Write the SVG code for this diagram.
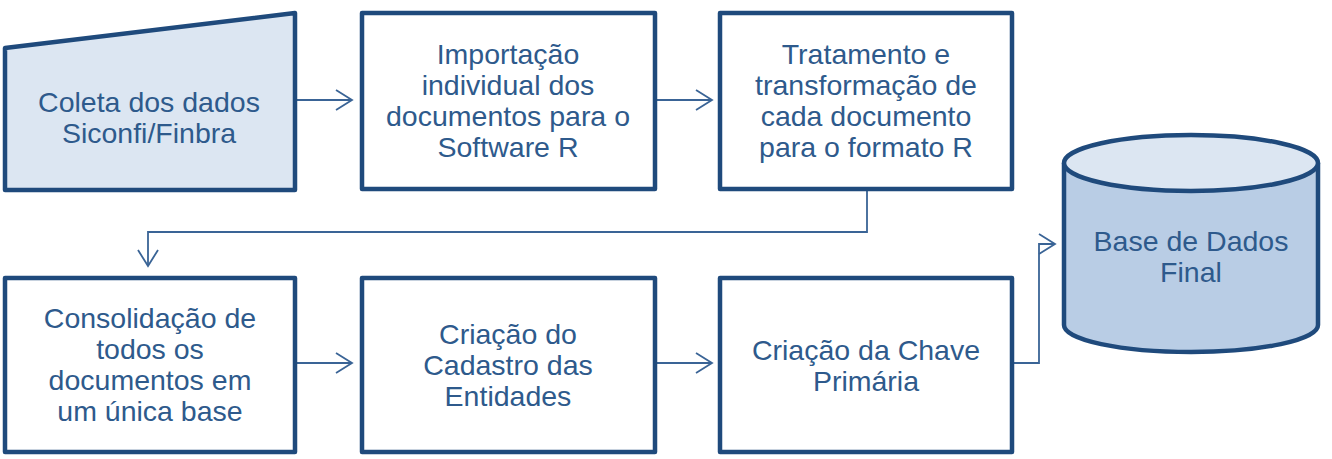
<svg xmlns="http://www.w3.org/2000/svg" width="1332" height="459" viewBox="0 0 1332 459">
<defs>
<style>
.box{fill:#ffffff;stroke:#1f4a7c;stroke-width:4.5;stroke-linejoin:round}
.light{fill:#dce6f2}
.dark{fill:#b9cde5}
.t{font-family:"Liberation Sans",Arial,sans-serif;font-size:28.5px;fill:#2e5a8c;text-anchor:middle}
.c{fill:none;stroke:#3a6496;stroke-width:1.8}
</style>
<marker id="arr" viewBox="0 0 20 24" refX="18" refY="12" markerWidth="20" markerHeight="24" markerUnits="userSpaceOnUse" orient="auto">
<path d="M2,2 L18,12 L2,22" fill="none" stroke="#3a6496" stroke-width="1.8"/>
</marker>
</defs>
<rect width="1332" height="459" fill="#ffffff"/>
<g id="connectors">
<path class="c" d="M295,100 H352" marker-end="url(#arr)"/>
<path class="c" d="M655,100 H712" marker-end="url(#arr)"/>
<path class="c" d="M867,189 V232 H148 V266" marker-end="url(#arr)"/>
<path class="c" d="M295,363 H352" marker-end="url(#arr)"/>
<path class="c" d="M655,363 H712" marker-end="url(#arr)"/>
<path class="c" d="M1012,363 H1039 V244 H1055" marker-end="url(#arr)"/>
</g>
<g id="n1">
<path class="box light" d="M5,48 L295,13 L295,190 L5,190 Z"/>
<text class="t" x="149" y="112">Coleta dos dados</text>
<text class="t" x="149" y="143">Siconfi/Finbra</text>
</g>
<g id="n2">
<rect class="box" x="362" y="13" width="293" height="176"/>
<text class="t" x="508" y="64">Importação</text>
<text class="t" x="508" y="95">individual dos</text>
<text class="t" x="508" y="126">documentos para o</text>
<text class="t" x="508" y="157">Software R</text>
</g>
<g id="n3">
<rect class="box" x="720" y="13" width="292" height="176"/>
<text class="t" x="866" y="64">Tratamento e</text>
<text class="t" x="866" y="95">transformação de</text>
<text class="t" x="866" y="126">cada documento</text>
<text class="t" x="866" y="157">para o formato R</text>
</g>
<g id="n4">
<rect class="box" x="5" y="278" width="290" height="174"/>
<text class="t" x="150" y="328">Consolidação de</text>
<text class="t" x="150" y="359">todos os</text>
<text class="t" x="150" y="390">documentos em</text>
<text class="t" x="150" y="421">um única base</text>
</g>
<g id="n5">
<rect class="box" x="362" y="278" width="293" height="174"/>
<text class="t" x="508" y="344">Criação do</text>
<text class="t" x="508" y="375">Cadastro das</text>
<text class="t" x="508" y="406">Entidades</text>
</g>
<g id="n6">
<rect class="box" x="720" y="278" width="292" height="174"/>
<text class="t" x="866" y="360">Criação da Chave</text>
<text class="t" x="866" y="391">Primária</text>
</g>
<g id="n7">
<path class="box dark" d="M1064,163 V325 A127,27 0 0 0 1318,325 V163"/>
<ellipse class="box light" cx="1191" cy="163" rx="127" ry="28"/>
<text class="t" x="1191" y="251">Base de Dados</text>
<text class="t" x="1191" y="282">Final</text>
</g>
</svg>
